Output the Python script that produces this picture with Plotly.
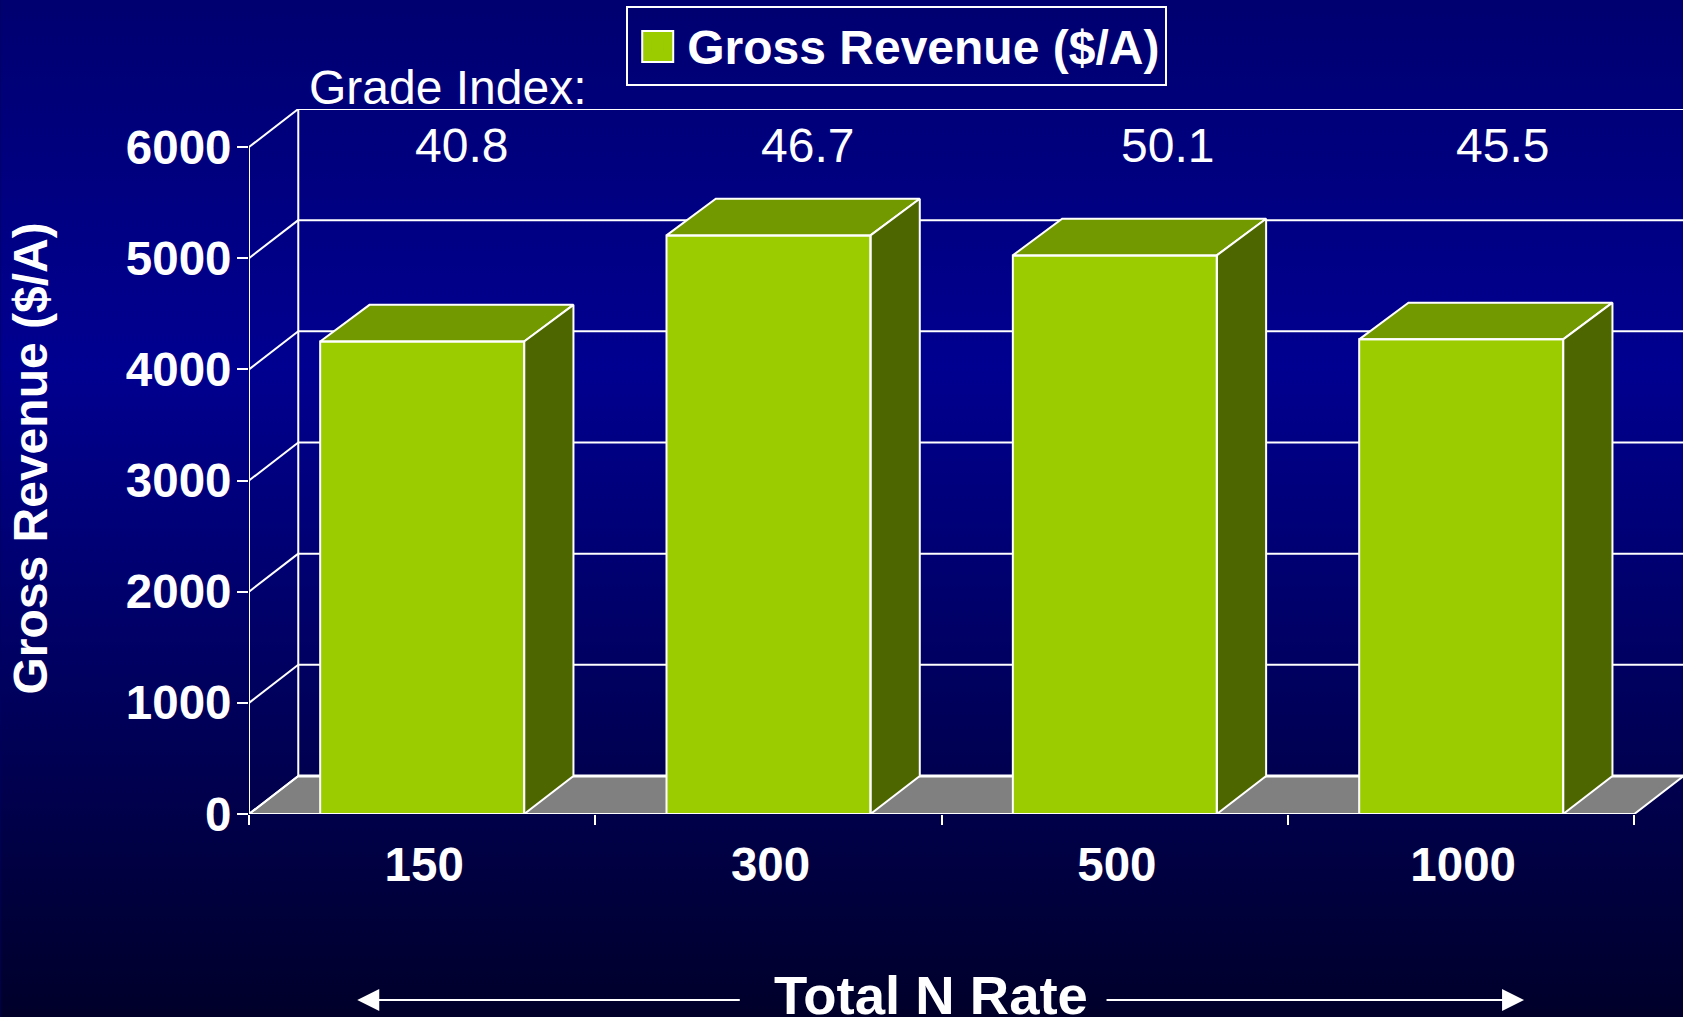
import base64
import plotly.graph_objects as go

# ---- data ----
n_rates = ["150", "300", "500", "1000"]
gross_revenue = [4250, 5205, 5025, 4270]
grade_index = ["40.8", "46.7", "50.1", "45.5"]
y_ticks = [0, 1000, 2000, 3000, 4000, 5000, 6000]
series_name = "Gross Revenue ($/A)"

# ---- styles / geometry ----
W, H = 1683, 1017
L, R, T, B = 248.7, 0, 109, 1017 - 813.7
FONT = "Liberation Sans, Arial, sans-serif"
FS = 48
GREEN, TOP, SIDE, FLOOR = "#9ACC00", "#739900", "#4D6600", "#808080"
BAR_W = 0.589
DX, DY = 0.1423, 342          # 3-D depth in data units
BAR_DY = 330
X_MIN, X_MAX = -0.5, 3.6405
Y_MAX = 6342


def xp(px):
    return (px - L) / (W - L - R)


def yp(py):
    return 1 - (py - T) / (H - T - B)


svg = (
    f'<svg xmlns="http://www.w3.org/2000/svg" width="{W}" height="{H}" preserveAspectRatio="none">'
    '<defs><linearGradient id="g" x1="0" y1="0" x2="0" y2="1">'
    '<stop offset="0" stop-color="#000070"/>'
    '<stop offset="0.36" stop-color="#000090"/>'
    '<stop offset="1" stop-color="#00002A"/>'
    '</linearGradient></defs>'
    f'<rect width="{W}" height="{H}" fill="url(#g)"/></svg>'
)
bg_uri = "data:image/svg+xml;base64," + base64.b64encode(svg.encode()).decode()

fig = go.Figure()

# front faces, native bars
xs = list(range(len(n_rates)))
fig.add_bar(x=xs, y=gross_revenue, width=BAR_W, name=series_name,
            marker=dict(color=GREEN, line=dict(width=0)), showlegend=True)

WHITE = dict(color="white", width=2)
# top, side and outline of each bar
for i, v in zip(xs, gross_revenue):
    a, b = i - BAR_W / 2, i + BAR_W / 2
    fig.add_scatter(x=[a, a + DX, b + DX, b, a], y=[v, v + BAR_DY, v + BAR_DY, v, v], mode="lines",
                    fill="toself", fillcolor=TOP, line=WHITE, showlegend=False, cliponaxis=False)
    fig.add_scatter(x=[b, b + DX, b + DX, b, b], y=[v, v + BAR_DY, DY, 0, v], mode="lines",
                    fill="toself", fillcolor=SIDE, line=WHITE, showlegend=False, cliponaxis=False)
    fig.add_scatter(x=[a, b, b, a, a], y=[0, 0, v, v, 0], mode="lines",
                    line=WHITE, showlegend=False, cliponaxis=False)

shapes = []
# floor
shapes.append(dict(type="path", xref="x", yref="y", layer="below",
                   path=f"M {X_MIN},0 L {X_MIN + DX},{DY} L {3.5 + DX},{DY} L 3.5,0 Z",
                   fillcolor=FLOOR, line=WHITE))
# grid on back wall and side wall
for v in y_ticks:
    shapes.append(dict(type="line", xref="x", yref="y", layer="below",
                       x0=X_MIN + DX, x1=3.5 + DX, y0=v + DY, y1=v + DY,
                       line=dict(color="white", width=3 if v == 0 else 2)))
    shapes.append(dict(type="line", xref="x", yref="y", layer="below",
                       x0=X_MIN, x1=X_MIN + DX, y0=v, y1=v + DY, line=WHITE))
shapes.append(dict(type="line", xref="x", yref="y", layer="below",
                   x0=X_MIN + DX, x1=X_MIN + DX, y0=DY, y1=6000 + DY, line=WHITE))
shapes.append(dict(type="line", xref="x", yref="y", layer="below",
                   x0=X_MIN, x1=X_MIN, y0=0, y1=6000, line=WHITE))
shapes.append(dict(type="line", xref="x", yref="y", layer="below",
                   x0=X_MIN, x1=3.5, y0=0, y1=0, line=WHITE))
# big legend swatch (sits under the native legend)
shapes.append(dict(type="rect", xref="paper", yref="paper", layer="above",
                   x0=xp(642), x1=xp(673), y0=yp(31), y1=yp(62),
                   fillcolor=GREEN, line=WHITE))

annos = []
base = dict(showarrow=False, font=dict(family=FONT, size=FS, color="white"))
bold = dict(family=FONT, size=FS, color="white", weight=700)
annos.append(dict(base, text="Grade Index:", xref="paper", yref="paper",
                  x=xp(307), y=yp(88), xanchor="left", yanchor="middle"))
for label, cx in zip(grade_index, [461, 807.5, 1167.5, 1502]):
    annos.append(dict(base, text=label, xref="paper", yref="paper",
                      x=xp(cx), y=yp(145), xanchor="center", yanchor="middle"))
annos.append(dict(showarrow=False, font=bold, text=series_name, textangle=-90,
                  xref="paper", yref="paper", x=xp(30), y=yp(458),
                  xanchor="center", yanchor="middle"))
annos.append(dict(showarrow=False, font=dict(bold, size=54.5), text="Total N Rate",
                  xref="paper", yref="paper", x=xp(931), y=yp(995),
                  xanchor="center", yanchor="middle"))
for tip, tail in [(357, 741), (1524, 1105)]:
    annos.append(dict(text="", showarrow=True, arrowhead=2, arrowsize=2.2, arrowwidth=2,
                      arrowcolor="white", xref="paper", yref="paper",
                      x=xp(tip), y=yp(999.5), ax=tail - tip, ay=0))

tickfont = dict(family=FONT, size=47.5, color="white", weight=700)
fig.update_layout(
    width=W, height=H,
    margin=dict(l=L, r=R, t=T, b=B, pad=0, autoexpand=False),
    paper_bgcolor="#000060", plot_bgcolor="rgba(0,0,0,0)",
    bargap=0, barmode="overlay",
    images=[dict(source=bg_uri, xref="paper", yref="paper", x=xp(0), y=yp(0),
                 sizex=W / (W - L - R), sizey=H / (H - T - B),
                 xanchor="left", yanchor="top", sizing="stretch", layer="below")],
    shapes=shapes, annotations=annos,
    legend=dict(x=xp(626), y=yp(6), xanchor="left", yanchor="top",
                bgcolor="rgba(0,0,0,0)", bordercolor="white", borderwidth=2,
                font=dict(family=FONT, size=48, color="white", weight=700),
                itemwidth=49, entrywidth=488, entrywidthmode="pixels"),
    xaxis=dict(range=[X_MIN, X_MAX], tickmode="array", tickvals=xs, ticktext=n_rates,
               ticks="", showgrid=False, zeroline=False, showline=False,
               tickfont=tickfont, ticklabelstandoff=18, ticklabelshift=2,
               minor=dict(tickmode="array", tickvals=[-0.5, 0.5, 1.5, 2.5, 3.5], ticks="outside",
                          ticklen=10, tickwidth=2, tickcolor="white", showgrid=False)),
    yaxis=dict(range=[0, Y_MAX], tickmode="array", tickvals=y_ticks,
               ticktext=[str(v) for v in y_ticks], ticks="outside", ticklen=11, tickwidth=2,
               tickcolor="white", showgrid=False, zeroline=False, showline=False,
               tickfont=tickfont, ticklabelstandoff=-4),
)

fig.write_html("out.html", config={"displayModeBar": False},
               post_script="document.body.style.margin='0';document.body.style.overflow='hidden';")
